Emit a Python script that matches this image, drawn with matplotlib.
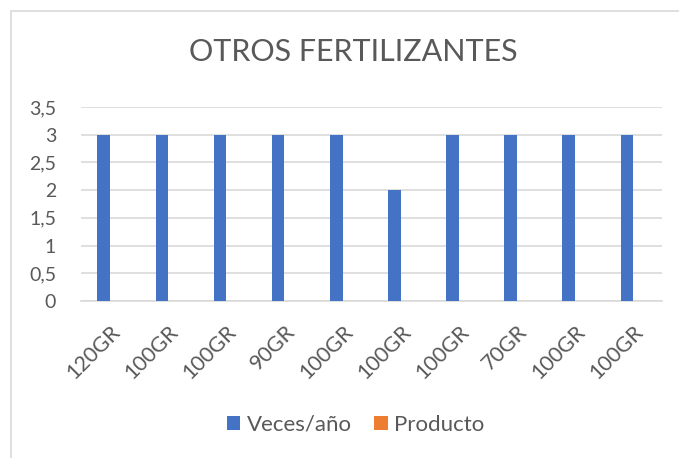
import numpy as np
import matplotlib.pyplot as plt
from matplotlib.patches import Rectangle
from matplotlib.ticker import FuncFormatter

plt.rcParams['font.family'] = ['Lato', 'DejaVu Sans']

categorias = ['120GR', '100GR', '100GR', '90GR', '100GR',
              '100GR', '100GR', '70GR', '100GR', '100GR']
veces_ano = [3, 3, 3, 3, 3, 2, 3, 3, 3, 3]
producto = [np.nan] * 10

azul = '#4472C4'
naranja = '#ED7D31'
gris_texto = '#595959'
gris_linea = '#D9D9D9'

fig = plt.figure(figsize=(6.79, 4.58), dpi=100)
ax = fig.add_axes([0.1193, 0.3428, 0.856, 0.4236])

# chart frame (cut off on the right and bottom)
fig.patches.append(Rectangle((11 / 679, -0.05), 1.2, 1 - 11 / 458 + 0.05,
                             transform=fig.transFigure, fill=False,
                             edgecolor=gris_linea, linewidth=1.2))

x = np.arange(len(categorias))
w = 0.217
ax.bar(x - w / 2, veces_ano, w, color=azul, label='Veces/año', zorder=3)
ax.bar(x + w / 2, producto, w, color=naranja, label='Producto', zorder=3)

ax.set_xlim(-0.5, len(categorias) - 0.5)
ax.set_ylim(0, 3.5)
ax.set_yticks(np.arange(0, 3.51, 0.5))
ax.yaxis.set_major_formatter(FuncFormatter(lambda v, p: f'{v:g}'.replace('.', ',')))
ax.grid(axis='y', color=gris_linea, linewidth=1.2, zorder=0)
for s in ['top', 'right', 'left']:
    ax.spines[s].set_visible(False)
ax.spines['bottom'].set_color(gris_linea)
ax.spines['bottom'].set_linewidth(1.2)
ax.tick_params(axis='both', length=0, colors=gris_texto, labelsize=14)
ax.tick_params(axis='y', pad=18)

ax.set_xticks(x)
ax.set_xticklabels(categorias, rotation=45, ha='right', rotation_mode='anchor')
ax.tick_params(axis='x', pad=15, labelsize=15.5)

fig.text(0.52, 0.886, 'OTROS FERTILIZANTES', ha='center', va='center',
         fontsize=22, color=gris_texto)

ax.legend(loc='center', bbox_to_anchor=(0.524, 0.073), bbox_transform=fig.transFigure,
          ncol=2, frameon=False, fontsize=16, labelcolor=gris_texto,
          handlelength=0.6, handleheight=0.6, handletextpad=0.3, columnspacing=1.0)

fig.savefig('out.png', dpi=100)
